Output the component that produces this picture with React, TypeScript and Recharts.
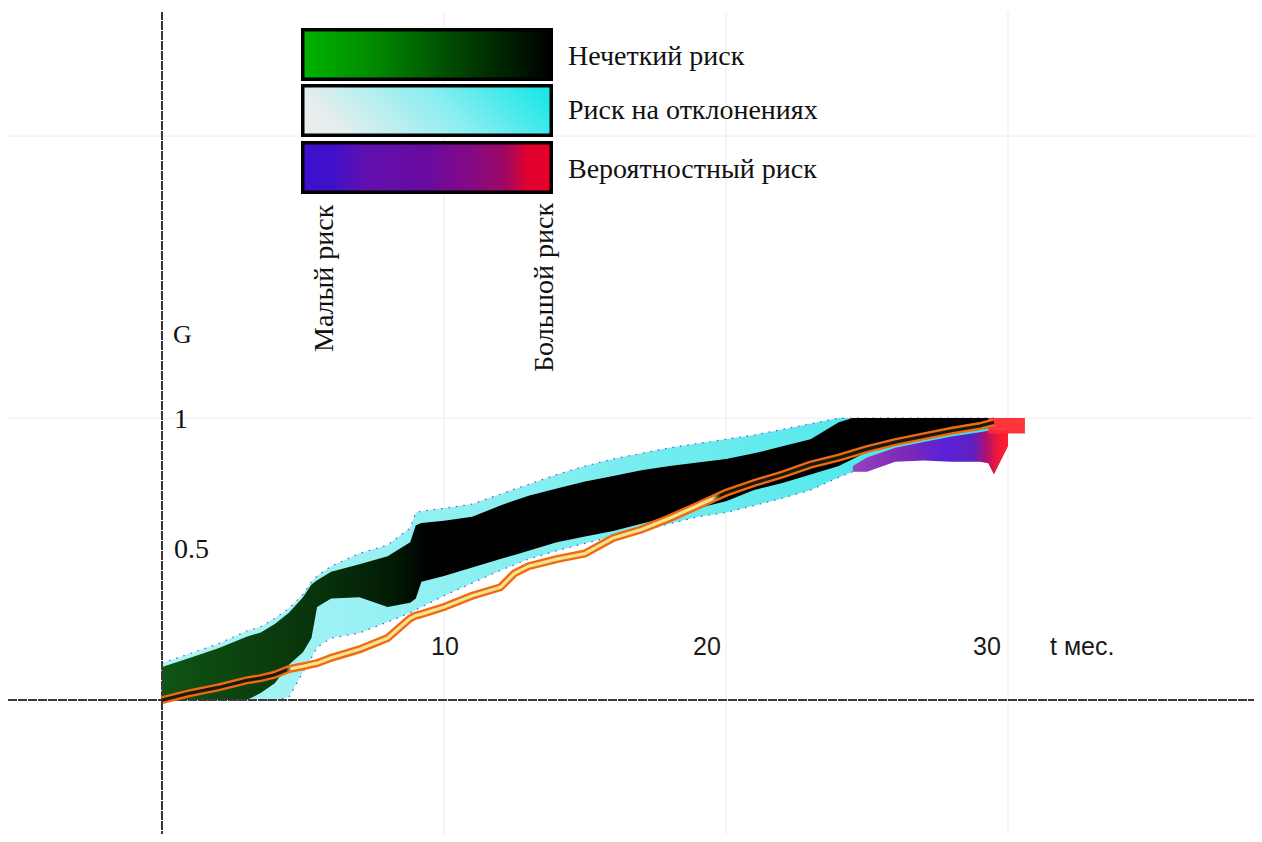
import React from "react";
import {
  ComposedChart,
  Area,
  Line,
  XAxis,
  YAxis,
  CartesianGrid,
  ReferenceLine,
  ReferenceDot,
} from "recharts";

// ---------- data ----------
const months = [
  0, 1, 2, 3, 3.5, 4, 4.5, 5, 5.3, 5.5,
  6, 7, 8, 8.8, 9, 9.2, 10, 11, 12, 12.5,
  13, 14, 15, 16, 17, 18, 19, 20, 21, 22,
  23, 24, 24.5, 25, 26, 27, 28, 29, 29.3, 29.5,
  30, 30.6,
];

// "Нечеткий риск" band (green → black)
const fuzzyLow = [
  0, 0, 0, 0, 0.025, 0.06, 0.125, 0.17, 0.22, 0.33,
  0.36, 0.365, 0.33, 0.345, 0.36, 0.42, 0.44, 0.47, 0.5, 0.515,
  0.53, 0.56, 0.58, 0.6, 0.625, 0.65, 0.68, 0.705, 0.745, 0.77,
  0.8, 0.83, 0.855, 0.88, 0.925, 0.94, 0.95, 0.96, 0.965, 0.968,
  null, null,
];
const fuzzyHigh = [
  0.117, 0.15, 0.184, 0.225, 0.24, 0.27, 0.31, 0.365, 0.41, 0.425,
  0.455, 0.482, 0.51, 0.56, 0.62, 0.628, 0.636, 0.65, 0.69, 0.708,
  0.725, 0.75, 0.775, 0.795, 0.815, 0.83, 0.843, 0.855, 0.875, 0.9,
  0.925, 0.985, 1, 1, 1, 1, 1, 1, 1, 1,
  null, null,
];

// "Риск на отклонениях" band (cyan)
const devLow = [
  0, 0, 0, 0, 0, 0, 0.01, 0.1, 0.15, 0.188,
  0.22, 0.238, 0.277, 0.31, 0.32, 0.33, 0.37, 0.415, 0.46, 0.48,
  0.5, 0.53, 0.556, 0.58, 0.6, 0.625, 0.65, 0.665, 0.69, 0.716,
  0.745, 0.79, 0.81, 0.835, 0.87, 0.89, 0.91, 0.93, 0.935, 0.94,
  null, null,
];
const devHigh = [
  0.131, 0.165, 0.2, 0.245, 0.26, 0.29, 0.325, 0.375, 0.42, 0.44,
  0.475, 0.52, 0.55, 0.61, 0.665, 0.67, 0.68, 0.695, 0.73, 0.748,
  0.765, 0.8, 0.83, 0.855, 0.875, 0.895, 0.91, 0.925, 0.94, 0.96,
  0.98, 1, 1, 1, 1, 1, 1, 1, 1, 1,
  null, null,
];

// "Вероятностный риск" patch (violet → red)
const probLow = [
  null, null, null, null, null, null, null, null, null, null,
  null, null, null, null, null, null, null, null, null, null,
  null, null, null, null, null, null, null, null, null, null,
  null, null, 0.81, 0.81, 0.845, 0.85, 0.845, 0.845, 0.84, 0.8,
  0.9, null,
];
const probHigh = [
  null, null, null, null, null, null, null, null, null, null,
  null, null, null, null, null, null, null, null, null, null,
  null, null, null, null, null, null, null, null, null, null,
  null, null, 0.83, 0.86, 0.895, 0.915, 0.935, 0.95, 0.955, 0.96,
  0.955, null,
];
const peakLow = [
  null, null, null, null, null, null, null, null, null, null,
  null, null, null, null, null, null, null, null, null, null,
  null, null, null, null, null, null, null, null, null, null,
  null, null, null, null, null, null, null, null, 0.945, 0.945,
  0.945, 0.945,
];
const peakHigh = [
  null, null, null, null, null, null, null, null, null, null,
  null, null, null, null, null, null, null, null, null, null,
  null, null, null, null, null, null, null, null, null, null,
  null, null, null, null, null, null, null, null, 1, 1,
  1, 1,
];

// orange risk curve
const riskLine = [
  0, 0.025, 0.045, 0.07, 0.078, 0.09, 0.11, 0.12, 0.127, 0.131,
  0.15, 0.18, 0.22, 0.29, 0.3, 0.305, 0.33, 0.37, 0.4, 0.45,
  0.475, 0.5, 0.52, 0.575, 0.605, 0.645, 0.69, 0.735, 0.77, 0.8,
  0.835, 0.86, 0.875, 0.89, 0.915, 0.935, 0.955, 0.972, 0.98, 0.985,
  null, null,
];

const xTickValues = [10, 20, 30];
const xTickLabels = ["10", "20", "30"];
const yTickValues = [0.5, 1];
const yTickLabels = ["0.5", "1"];

const legendLabels = ["Нечеткий риск", "Риск на отклонениях", "Вероятностный риск"];
const scaleLabels = ["Малый риск", "Большой риск"];
const yTitle = "G";
const xTitle = "t мес.";

// ---------- build table ----------
const pair = (a: (number | null)[], b: (number | null)[], i: number) =>
  a[i] == null || b[i] == null ? null : [a[i], b[i]];

const data = months.map((t, i) => ({
  t,
  dev: pair(devLow, devHigh, i),
  fuzzy: pair(fuzzyLow, fuzzyHigh, i),
  prob: pair(probLow, probHigh, i),
  peak: pair(peakLow, peakHigh, i),
  risk: riskLine[i],
}));

// ---------- style ----------
const SERIF = "'Liberation Serif', 'Times New Roman', serif";
const SANS = "'Liberation Sans', Arial, sans-serif";
const X_LABEL_LEVEL = 0.19; // vertical level (in G) where month labels sit
const xTickShift = [1, -19, -21];
const yTickDy = [-11, 0];

export default function App() {
  const W = 1254;
  const H = 834;
  return (
    <div style={{ position: "relative", width: W, height: H, marginBottom: -8 }}>
      <ComposedChart
        width={W}
        height={H}
        data={data}
        margin={{ top: 4, right: 4, bottom: 2, left: 0 }}
      >
        <defs>
          <linearGradient id="fuzzGrad" x1="0" y1="0" x2="1" y2="0">
            <stop offset="0" stopColor="#0f5514" />
            <stop offset="0.1" stopColor="#0b420e" />
            <stop offset="0.2" stopColor="#07300a" />
            <stop offset="0.28" stopColor="#031a05" />
            <stop offset="0.32" stopColor="#000000" />
            <stop offset="1" stopColor="#000000" />
          </linearGradient>
          <linearGradient id="devGrad" x1="0" y1="0" x2="1" y2="0">
            <stop offset="0" stopColor="#b0f4f6" />
            <stop offset="0.5" stopColor="#80eef0" />
            <stop offset="0.85" stopColor="#50e8ec" />
            <stop offset="1" stopColor="#30e4e8" />
          </linearGradient>
          <linearGradient id="probGrad" x1="0" y1="0" x2="1" y2="0">
            <stop offset="0" stopColor="#9a40c0" />
            <stop offset="0.35" stopColor="#7a28b8" />
            <stop offset="0.6" stopColor="#5a20d8" />
            <stop offset="0.78" stopColor="#6020c0" />
            <stop offset="0.86" stopColor="#b01070" />
            <stop offset="0.93" stopColor="#f01838" />
            <stop offset="1" stopColor="#ff2030" />
          </linearGradient>
          <linearGradient id="innerGrad" x1="0" y1="0" x2="1" y2="0">
            <stop offset="0" stopColor="#1a1a0a" />
            <stop offset="0.149" stopColor="#1a1a0a" />
            <stop offset="0.156" stopColor="#f4e490" />
            <stop offset="0.661" stopColor="#f4e490" />
            <stop offset="0.671" stopColor="#1a1a0a" />
            <stop offset="1" stopColor="#1a1a0a" />
          </linearGradient>
        </defs>
        <CartesianGrid
          stroke="#ebebeb"
          strokeWidth={1}
          horizontalValues={[1, 2]}
          verticalValues={[10, 20, 30]}
        />
        <XAxis
          type="number"
          dataKey="t"
          domain={[-5.461, 38.865]}
          allowDataOverflow
          hide
        />
        <YAxis
          type="number"
          domain={[-0.496, 2.44]}
          allowDataOverflow
          hide
        />
        <Area
          type="linear"
          dataKey="dev"
          fill="url(#devGrad)"
          fillOpacity={1}
          stroke="#6a4ad0"
          strokeWidth={1.2}
          strokeDasharray="1.5 6"
          isAnimationActive={false}
          dot={false}
          activeDot={false}
        />
        <Area
          type="linear"
          dataKey="prob"
          fill="url(#probGrad)"
          fillOpacity={1}
          stroke="none"
          isAnimationActive={false}
          dot={false}
          activeDot={false}
        />
        <Area
          type="linear"
          dataKey="fuzzy"
          fill="url(#fuzzGrad)"
          fillOpacity={1}
          stroke="none"
          isAnimationActive={false}
          dot={false}
          activeDot={false}
        />
        <Area
          type="linear"
          dataKey="peak"
          fill="#ff2a34"
          fillOpacity={0.95}
          stroke="none"
          isAnimationActive={false}
          dot={false}
          activeDot={false}
        />
        <ReferenceLine y={0} stroke="#3a3a3a" strokeWidth={2} strokeDasharray="9 1" />
        <ReferenceLine x={0} stroke="#3a3a3a" strokeWidth={2} strokeDasharray="9 1" />
        <Line
          type="linear"
          dataKey="risk"
          stroke="#f06a10"
          strokeWidth={8}
          dot={false}
          activeDot={false}
          isAnimationActive={false}
        />
        <Line
          type="linear"
          dataKey="risk"
          stroke="url(#innerGrad)"
          strokeWidth={3.2}
          dot={false}
          activeDot={false}
          isAnimationActive={false}
        />
        {xTickValues.map((v, i) => (
          <ReferenceDot
            key={"xt" + v}
            x={v}
            y={X_LABEL_LEVEL}
            r={0}
            fill="none"
            stroke="none"
            label={{
              value: xTickLabels[i],
              position: "center",
              dx: xTickShift[i],
              fontFamily: SANS,
              fontSize: 25,
              fill: "#1a1a1a",
            }}
          />
        ))}
        {yTickValues.map((v, i) => (
          <ReferenceDot
            key={"yt" + v}
            x={0}
            y={v}
            r={0}
            fill="none"
            stroke="none"
            label={{
              value: yTickLabels[i],
              position: "right",
              offset: 12,
              dy: yTickDy[i],
              fontFamily: SERIF,
              fontSize: 28,
              fill: "#111",
            }}
          />
        ))}
      </ComposedChart>
      <svg
        width={W}
        height={H}
        style={{ position: "absolute", left: 0, top: 0, pointerEvents: "none" }}
      >
        <defs>
          <linearGradient id="legGreen" x1="0" y1="0" x2="1" y2="0">
            <stop offset="0" stopColor="#00b400" />
            <stop offset="0.3" stopColor="#008800" />
            <stop offset="0.6" stopColor="#004a00" />
            <stop offset="1" stopColor="#000000" />
          </linearGradient>
          <linearGradient id="legCyan" x1="0" y1="0.2" x2="1" y2="0">
            <stop offset="0" stopColor="#e8eeee" />
            <stop offset="0.5" stopColor="#8ceef0" />
            <stop offset="1" stopColor="#10e6e6" />
          </linearGradient>
          <linearGradient id="legProb" x1="0" y1="0" x2="1" y2="0">
            <stop offset="0" stopColor="#3a10d0" />
            <stop offset="0.12" stopColor="#4010c8" />
            <stop offset="0.25" stopColor="#6010b0" />
            <stop offset="0.5" stopColor="#6a0aa0" />
            <stop offset="0.7" stopColor="#880a80" />
            <stop offset="0.82" stopColor="#a00860" />
            <stop offset="0.9" stopColor="#e00030" />
            <stop offset="1" stopColor="#e80028" />
          </linearGradient>
        </defs>
        {["url(#legGreen)", "url(#legCyan)", "url(#legProb)"].map((f, i) => (
          <rect
            key={i}
            x={294.75}
            y={[21.75, 77.75, 134.75][i]}
            width={248.5}
            height={49.5}
            fill={f}
            stroke="#000"
            strokeWidth={3.5}
          />
        ))}
        {legendLabels.map((s, i) => (
          <text
            key={s}
            x={560}
            y={[57, 111, 170][i]}
            fontFamily={SERIF}
            fontSize={28}
            fill="#111"
          >
            {s}
          </text>
        ))}
        <text
          transform="translate(325,344) rotate(-90)"
          fontFamily={SERIF}
          fontSize={28}
          fill="#111"
        >
          {scaleLabels[0]}
        </text>
        <text
          transform="translate(545,364) rotate(-90)"
          fontFamily={SERIF}
          fontSize={28}
          fill="#111"
        >
          {scaleLabels[1]}
        </text>
        <text x={165} y={335} fontFamily={SERIF} fontSize={26} fill="#111">
          {yTitle}
        </text>
        <text x={1042} y={647} fontFamily={SANS} fontSize={25} fill="#1a1a1a">
          {xTitle}
        </text>
      </svg>
    </div>
  );
}
